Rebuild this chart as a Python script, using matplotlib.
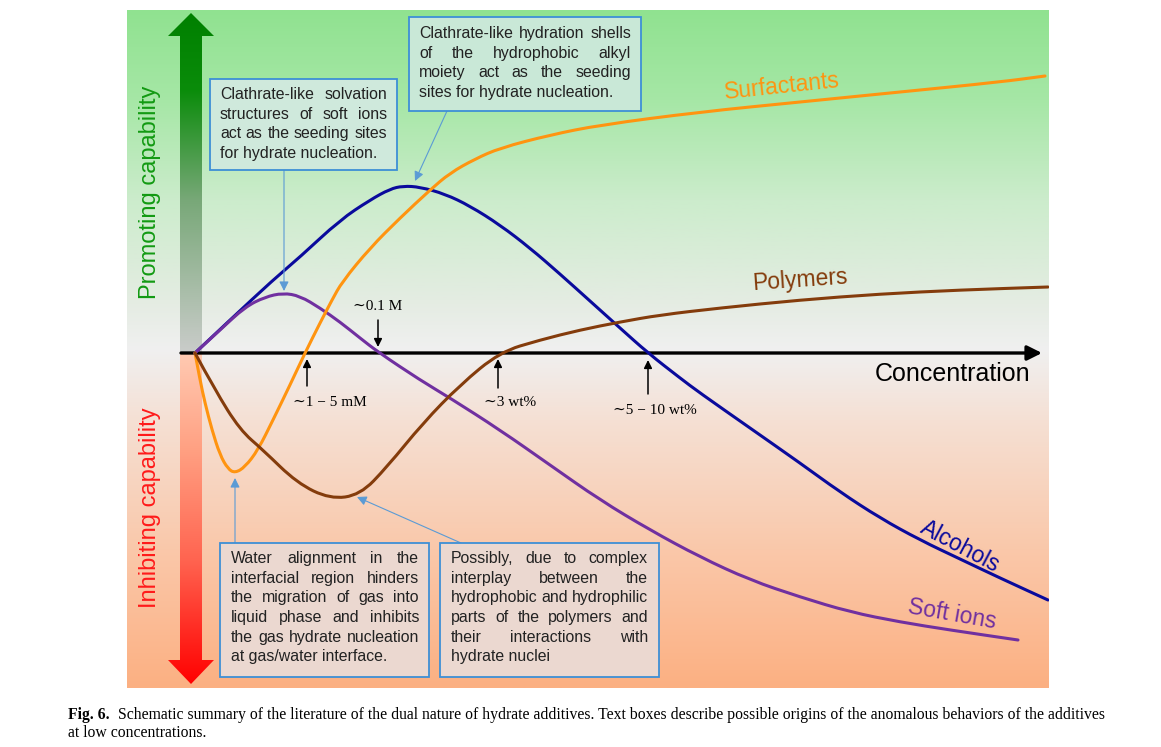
import numpy as np
import matplotlib
matplotlib.use("Agg")
import matplotlib.pyplot as plt
from matplotlib.patches import Polygon, Rectangle, PathPatch
from matplotlib.path import Path

# x: concentration (a.u.), y: capability (a.u.; >0 promoting, <0 inhibiting)
alcohols_x = [0, .35, .78, 1.05, 1.45, 1.75, 1.95, 2.08, 2.25, 2.50, 2.75, 3.05, 3.35, 3.65,
              3.95, 4.25, 4.53, 4.85, 5.05, 5.55, 6.05, 6.45, 6.85, 7.25, 7.65, 8.05, 8.53]
alcohols_y = [0, .33, .73, .96, 1.33, 1.53, 1.64, 1.67, 1.66, 1.59, 1.47, 1.28, 1.05, .79,
              .52, .25, 0, -.25, -.40, -.75, -1.10, -1.39, -1.65, -1.87, -2.06, -2.25, -2.47]

softions_x = [0, .25, .50, .70, .88, 1.05, 1.25, 1.45, 1.65, 1.83, 2.25, 2.55, 3.05, 3.55,
              4.05, 4.55, 5.05, 5.55, 6.05, 6.55, 7.05, 7.55, 8.23]
softions_y = [0, .23, .46, .56, .60, .57, .45, .31, .15, .01, -.27, -.45, -.77, -1.12,
              -1.47, -1.77, -2.04, -2.27, -2.44, -2.59, -2.69, -2.77, -2.87]

surfact_x = [0, .05, .10, .17, .25, .33, .40, .50, .63, .78, .95, 1.10, 1.25, 1.37, 1.47,
             1.75, 2.05, 2.35, 2.55, 2.80, 3.05, 3.55, 4.05, 5.05, 6.05, 7.05, 8.05, 8.50]
surfact_y = [0, -.27, -.50, -.77, -1.02, -1.16, -1.20, -1.14, -.97, -.67, -.32, 0, .30, .53, .71,
             1.05, 1.35, 1.63, 1.80, 1.94, 2.05, 2.18, 2.28, 2.41, 2.51, 2.61, 2.71, 2.77]

polymer_x = [0, .20, .45, .68, 1.02, 1.35, 1.65, 1.92, 2.28, 2.65, 3.05, 3.45, 3.85, 4.25,
             4.65, 5.25, 6.05, 6.85, 7.65, 8.53]
polymer_y = [0, -.37, -.77, -.97, -1.30, -1.46, -1.42, -1.14, -.70, -.32, .01, .13, .23, .31,
             .38, .45, .53, .59, .63, .66]

curve_names = ["Alcohols", "Soft ions", "Surfactants", "Polymers"]
curve_colors = ["#0a0a9c", "#7030a0", "#ff9410", "#843c0c"]

# concentrations marked on the axis
mark_labels = ["\u223c0.1 M", "\u223c1 \u2212 5 mM", "\u223c3 wt%", "\u223c5 \u2212 10 wt%"]

W, H = 1161, 747
fig = plt.figure(figsize=(W / 100, H / 100), dpi=100)
fig.patch.set_facecolor("white")

# panel in pixel box 127..1049 x 10..688
px0, px1, py0, py1 = 127, 1049, 10, 688
ax = fig.add_axes([px0 / W, (H - py1) / H, (px1 - px0) / W, (py1 - py0) / H])


def d(px, py):
    # pixel position -> panel data units
    return (px - 195) / 100, (353 - py) / 100


xlim = (d(px0, 0)[0], d(px1, 0)[0])
ylim = (d(0, py1)[1], d(0, py0)[1])


def vgrad(stops, y_top, y_bot, n=400):
    ys = np.linspace(y_top, y_bot, n)
    sy = [s[0] for s in stops]
    img = np.zeros((n, 1, 3))
    for c in range(3):
        img[:, 0, c] = np.interp(ys, sy, [s[1][c] for s in stops]) / 255
    return img


bg_stops = [(10, (144, 226, 144)), (100, (166, 231, 166)), (200, (204, 236, 204)),
            (300, (228, 236, 226)), (350, (240, 240, 240)), (420, (245, 224, 212)),
            (550, (250, 200, 170)), (688, (252, 176, 130))]
ax.imshow(vgrad(bg_stops, py0, py1), extent=(xlim[0], xlim[1], ylim[0], ylim[1]),
          aspect="auto", zorder=0)

# vertical capability arrows
up_poly = Polygon([d(*p) for p in [(180, 354), (180, 36), (168, 36), (191, 13), (214, 36),
                                   (202, 36), (202, 354)]], closed=True, fc="none", ec="none")
down_poly = Polygon([d(*p) for p in [(180, 353), (180, 660), (168, 660), (191, 684), (214, 660),
                                     (202, 660), (202, 353)]], closed=True, fc="none", ec="none")
ax.add_patch(up_poly)
ax.add_patch(down_poly)
up_stops = [(13, (0, 128, 0)), (90, (10, 140, 10)), (200, (120, 168, 120)), (353, (202, 204, 202))]
dn_stops = [(353, (255, 202, 178)), (450, (255, 160, 130)), (560, (255, 100, 80)), (684, (255, 0, 0))]
l, t = d(166, 13)
r, b = d(216, 354)
im = ax.imshow(vgrad(up_stops, 13, 354), extent=(l, r, b, t), aspect="auto", zorder=1)
im.set_clip_path(up_poly)
l, t = d(166, 353)
r, b = d(216, 684)
im = ax.imshow(vgrad(dn_stops, 353, 684), extent=(l, r, b, t), aspect="auto", zorder=1)
im.set_clip_path(down_poly)

# concentration axis
ax.annotate("", xy=d(1042, 353), xytext=d(181, 353),
            arrowprops=dict(arrowstyle="-|>", lw=2.4, color="black", mutation_scale=22,
                            shrinkA=0, shrinkB=0), zorder=2)


def smooth_path(xs, ys):
    # quadratic segments through midpoints of the read points
    pts = np.column_stack([xs, ys])
    verts = [pts[0]]
    codes = [Path.MOVETO]
    for i in range(1, len(pts) - 1):
        verts += [pts[i], (pts[i] + pts[i + 1]) / 2]
        codes += [Path.CURVE3, Path.CURVE3]
    verts.append(pts[-1])
    codes.append(Path.LINETO)
    return Path(verts, codes)


series = [(alcohols_x, alcohols_y), (softions_x, softions_y),
          (surfact_x, surfact_y), (polymer_x, polymer_y)]
for (xs, ys), name, col in zip(series, curve_names, curve_colors):
    ax.add_patch(PathPatch(smooth_path(xs, ys), fc="none", ec=col, lw=2.2,
                           capstyle="round", joinstyle="round", label=name, zorder=3))

ax.set_xlim(*xlim)
ax.set_ylim(*ylim)
ax.set_axis_off()

# overlay in pixel coordinates for annotations
ov = fig.add_axes([0, 0, 1, 1], zorder=5)
ov.patch.set_alpha(0)
ov.set_axis_off()

sans = ["Liberation Sans", "DejaVu Sans"]
serif = ["Liberation Serif", "DejaVu Serif"]

ov.text(150, 192, "Promoting capability", rotation=90, color="#129a12", fontsize=17,
        family=sans, ha="center", va="center")
ov.text(150, 508, "Inhibiting capability", rotation=90, color="#ff1a1a", fontsize=17,
        family=sans, ha="center", va="center")
ov.text(953, 374, "Concentration", fontsize=18, family=sans, ha="center", va="center")

# curve labels
ov.text(782, 86, "Surfactants", color=curve_colors[2], fontsize=16.5, family=sans,
        rotation=6, ha="center", va="center", rotation_mode="anchor")
ov.text(800, 280, "Polymers", color=curve_colors[3], fontsize=16.5, family=sans,
        rotation=4, ha="center", va="center", rotation_mode="anchor")
ov.text(960, 547, "Alcohols", color=curve_colors[0], fontsize=16.5, family=sans,
        rotation=-28, ha="center", va="center", rotation_mode="anchor")
ov.text(952, 614, "Soft ions", color=curve_colors[1], fontsize=16.5, family=sans,
        rotation=-10, ha="center", va="center", rotation_mode="anchor")

# concentration marks
mark_text_pos = [(378, 307), (330, 402), (510, 402), (655, 410)]
mark_arrows = [((378, 320), (378, 347)), ((307, 386), (307, 359)),
               ((498, 388), (498, 359)), ((648, 394), (648, 360))]
for lab, (tx, ty), (a0, a1) in zip(mark_labels, mark_text_pos, mark_arrows):
    ov.text(tx, ty, lab, fontsize=11, family=serif, ha="center", va="center")
    ov.annotate("", xy=a1, xytext=a0,
                arrowprops=dict(arrowstyle="-|>", lw=1.1, color="black", mutation_scale=12,
                                shrinkA=0, shrinkB=0))

renderer = fig.canvas.get_renderer()


def text_width(s, fs, fam, weight="normal"):
    t = ov.text(0, 0, s, fontsize=fs, family=fam, weight=weight)
    w = t.get_window_extent(renderer).width
    t.remove()
    return w


def justified(lines, x0, x1, y0, lh, fs=11.4):
    for i, line in enumerate(lines):
        y = y0 + i * lh
        words = line.split()
        if i == len(lines) - 1 or len(words) == 1:
            ov.text(x0, y, line, fontsize=fs, family=sans, color="#222222", va="baseline", zorder=6)
            continue
        widths = [text_width(w, fs, sans) for w in words]
        gap = (x1 - x0 - sum(widths)) / (len(words) - 1)
        x = x0
        for w, wd in zip(words, widths):
            ov.text(x, y, w, fontsize=fs, family=sans, color="#222222", va="baseline", zorder=6)
            x += wd + gap


boxes = [
    ((210, 79, 397, 170), "#cfe9dc",
     ["Clathrate-like solvation", "structures of soft ions",
      "act as the seeding sites", "for hydrate nucleation."], (220, 387, 99)),
    ((409, 17, 641, 111), "#c9e8d7",
     ["Clathrate-like hydration shells", "of the hydrophobic alkyl",
      "moiety act as the seeding", "sites for hydrate nucleation."], (419, 631, 38)),
    ((220, 543, 429, 677), "#ebd8d0",
     ["Water alignment in the", "interfacial region hinders", "the migration of gas into",
      "liquid phase and inhibits", "the gas hydrate nucleation", "at gas/water interface."],
     (231, 419, 563)),
    ((440, 543, 659, 677), "#ebd8d0",
     ["Possibly, due to complex", "interplay between the", "hydrophobic and hydrophilic",
      "parts of the polymers and", "their interactions with", "hydrate nuclei"],
     (451, 648, 563)),
]
for (bx0, by0, bx1, by1), fc, lines, (tx0, tx1, ty0) in boxes:
    ov.add_patch(Rectangle((bx0, by0), bx1 - bx0, by1 - by0, fc=fc, ec="#3d8fd6", lw=1.3, zorder=4))
    justified(lines, tx0, tx1, ty0, 19.7)

leaders = [((284, 170), (284, 291)), ((447, 111), (415, 181)),
           ((235, 543), (235, 478)), ((461, 543), (357, 497))]
for a0, a1 in leaders:
    ov.annotate("", xy=a1, xytext=a0,
                arrowprops=dict(arrowstyle="-|>", lw=0.8, color="#5b9bd5", mutation_scale=14,
                                shrinkA=0, shrinkB=0))

# caption
cap_fs = 10
bold = "Fig. 6."
rest1 = "Schematic summary of the literature of the dual nature of hydrate additives. Text boxes describe possible origins of the anomalous behaviors of the additives"
wb = text_width(bold + "  ", cap_fs, serif, "bold")
wr = text_width(rest1, cap_fs, serif)
cap_fs = cap_fs * (1106 - 68) / (wb + wr)
wb = text_width(bold + "  ", cap_fs, serif, "bold")
ov.text(68, 719, bold, fontsize=cap_fs, family=serif, weight="bold", va="baseline")
ov.text(68 + wb, 719, rest1, fontsize=cap_fs, family=serif, va="baseline")
ov.text(68, 737, "at low concentrations.", fontsize=cap_fs, family=serif, va="baseline")

ov.set_xlim(0, W)
ov.set_ylim(H, 0)

fig.savefig("out.png", dpi=100)
